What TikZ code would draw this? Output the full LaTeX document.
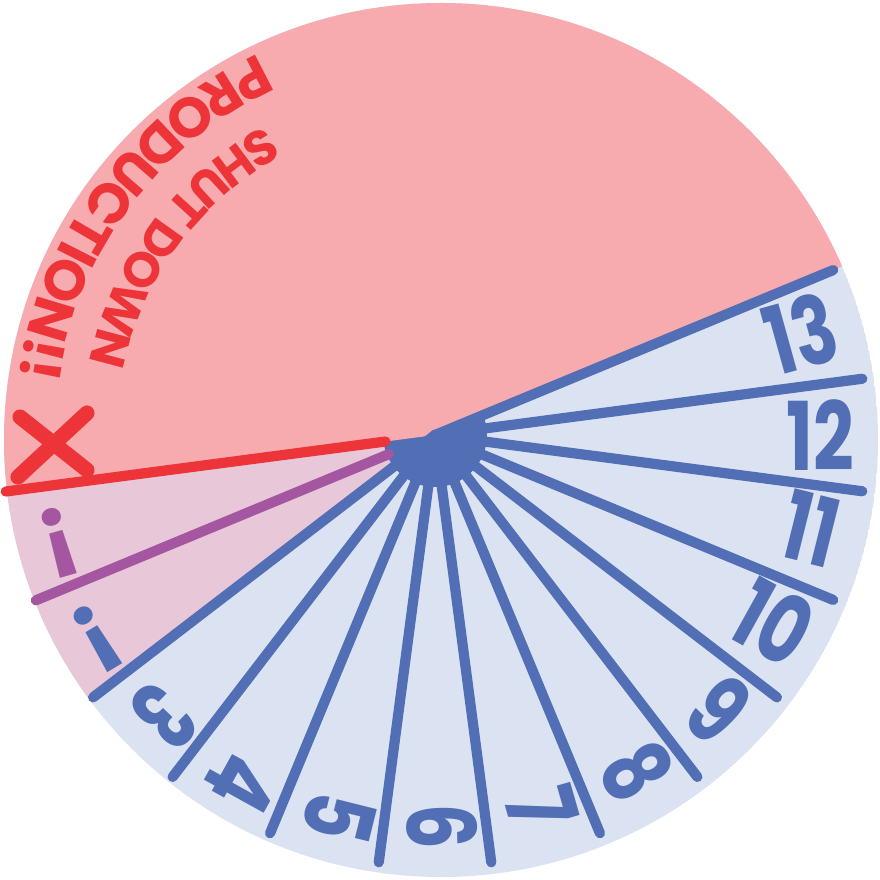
\documentclass[tikz,border=0pt]{standalone}
\usepackage{fontspec}
\setmainfont{Poppins}
\usepackage{graphicx}
\usetikzlibrary{decorations.text}
\definecolor{hblau}{HTML}{DBE3F3}
\definecolor{blau}{HTML}{526FB6}
\definecolor{rosa}{HTML}{F7ABAE}
\definecolor{rot}{HTML}{ED3438}
\definecolor{lila}{HTML}{A456A1}
\definecolor{hlila}{HTML}{E8C7D9}
\newcommand{\ziff}[1]{\scalebox{0.75}[1]{\bfseries #1}}
\newcommand{\titel}{\fontsize{16}{16}\selectfont\bfseries}
\newcommand{\titelk}{\fontsize{14}{14}\selectfont\bfseries}
\tikzset{
  speiche/.style={blau,line width=2.9pt,line cap=round},
  grenze/.style={line width=2.9pt,line cap=round},
  ziffer/.style={blau,inner sep=0pt,font=\fontsize{27}{27}\selectfont},
  kreuz/.style={rot,line width=4.3pt,line cap=round},
  bogen/.style={decorate,decoration={text along path,text align=center,text color=rot}},
}

\begin{document}
\begin{tikzpicture}[x=0.01cm,y=0.01cm]
  \useasboundingbox (-435,-444) rectangle (445,435);
  \begin{scope}
    \clip (6,-5) circle (437);
    \fill[hblau] (6,-5) circle (437);
    \fill[hlila] (0,0) -- (187.5:500) arc[start angle=187.5,end angle=217.5,radius=500] -- cycle;
    \fill[blau] (0,0) circle (52);
    \fill[rosa] (0,0) -- (22.5:500) arc[start angle=22.5,end angle=187.5,radius=500] -- cycle;
  \end{scope}
  \foreach \w in {22.5,7.5,...,-142.5}
    \draw[speiche] (0,0) -- (\w:431);
  \draw[grenze,lila] (202.5:50) -- (202.5:432);
  \draw[grenze,rot] (187.5:50) -- (187.5:433);
  \foreach \z/\w/\r in {13/15.5/380,12/0/385,11/-14/387,10/-29/387,9/-44/395,8/-59/393,7/-74/388,6/-89/392,5/-104/394,4/-119/398,3/-134/391}
    \node[ziffer,rotate=\w] (z\z) at (\w:\r) {\ziff{\z}};
  \node[ziffer,rotate=-149] (ausr1) at (-149:394) {\bfseries !};
  \node[ziffer,lila,rotate=-164] (ausr2) at (-164:391) {\bfseries !};
  \draw[kreuz] (-415,18) -- (-348,-35) (-348,22) -- (-417,-42);
  \path[bogen,decoration={text={|\titelk|SHUT DOWN}}] (98.5:353) arc[start angle=98.5,end angle=188.5,radius=353];
  \path[bogen,decoration={text={|\titel|PRODUCTION!!}}] (98.5:420) arc[start angle=98.5,end angle=188.5,radius=420];
\end{tikzpicture}
\end{document}
